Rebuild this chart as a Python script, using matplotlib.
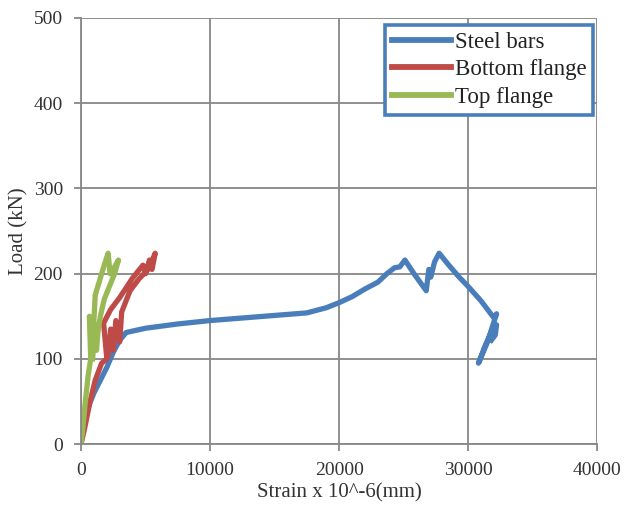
import matplotlib
matplotlib.use("Agg")
import matplotlib.pyplot as plt

# Steel bars
steel_x = [0, 100, 300, 600, 1000, 1500, 2000, 2500, 3000, 3500, 5000, 7500, 10000, 12500,
           15000, 17500, 19000, 20000, 21000, 22000, 23000, 23700, 24300, 24700, 25100, 25800,
           26750, 26950, 27100, 27400, 27750, 28500, 29300, 30000, 31000, 32000, 32200, 31500,
           30800, 31300, 31900, 32200, 32100, 31800]
steel_y = [0, 15, 30, 45, 60, 75, 90, 108, 122, 131, 136, 141, 145, 148,
           151, 154, 160, 166, 173, 182, 190, 200, 207, 208, 216, 200,
           180, 205, 196, 214, 224, 210, 196, 185, 168, 148, 153, 120,
           95, 115, 135, 140, 128, 122]

# Bottom flange
bottom_x = [0, 300, 700, 1100, 1600, 2000, 1750, 2300, 3000, 4000, 4800, 5000, 5300, 5500,
            5750, 5500, 5200, 4500, 3800, 3150, 3000, 2700, 2500, 2300, 2100]
bottom_y = [0, 20, 50, 75, 95, 100, 142, 158, 172, 195, 210, 200, 216, 205,
            224, 215, 205, 194, 180, 155, 120, 145, 110, 135, 105]

# Top flange
top_x = [0, 150, 300, 550, 750, 650, 900, 1000, 1100, 1500, 1800, 2100, 2250, 2600,
         2900, 2600, 2200, 1800, 1500, 1300, 1200, 1100, 900]
top_y = [0, 20, 45, 80, 100, 150, 120, 145, 175, 195, 210, 224, 200, 208,
         216, 200, 185, 170, 150, 130, 110, 140, 100]

plt.rcParams['font.family'] = ['Liberation Serif', 'DejaVu Serif']

fig = plt.figure(figsize=(6.28, 5.07), dpi=100)
ax = fig.add_axes([0.129, 0.124, 0.822, 0.8405])

ax.plot(steel_x, steel_y, color='#4a7ebb', lw=3.8, label='Steel bars', solid_joinstyle='round')
ax.plot(bottom_x, bottom_y, color='#be4b48', lw=3.8, label='Bottom flange', solid_joinstyle='round')
ax.plot(top_x, top_y, color='#98b954', lw=3.8, label='Top flange', solid_joinstyle='round')

ax.set_xlim(0, 40000)
ax.set_ylim(0, 500)
ax.set_xticks(range(0, 40001, 10000))
ax.set_yticks(range(0, 501, 100))
ax.grid(True, color='#878787', lw=1.3)
ax.set_axisbelow(True)

for s in ['top', 'right']:
    ax.spines[s].set_visible(False)
for s in ['left', 'bottom']:
    ax.spines[s].set_color('#878787')
    ax.spines[s].set_linewidth(1.3)
ax.tick_params(direction='out', length=5, width=1.3, color='#878787',
               labelsize=14, labelcolor='#333333')
ax.tick_params(axis='x', pad=8)
ax.tick_params(axis='y', pad=8)

ax.set_xlabel('Strain x 10^-6(mm)', fontsize=15, color='#333333', labelpad=3)
ax.set_ylabel('Load (kN)', fontsize=15, color='#333333', labelpad=4)

leg = ax.legend(loc='upper right', bbox_to_anchor=(0.992, 0.984), fontsize=16.5,
                frameon=True, fancybox=False, handlelength=2.6, handletextpad=0.15,
                labelspacing=0.28, borderpad=0.3, borderaxespad=0)
leg.get_frame().set_edgecolor('#4a7ebb')
leg.get_frame().set_linewidth(2.6)
leg.get_frame().set_alpha(1)
for line in leg.get_lines():
    line.set_linewidth(4.2)
for t in leg.get_texts():
    t.set_color('#222222')

fig.savefig('out.png', dpi=100)
